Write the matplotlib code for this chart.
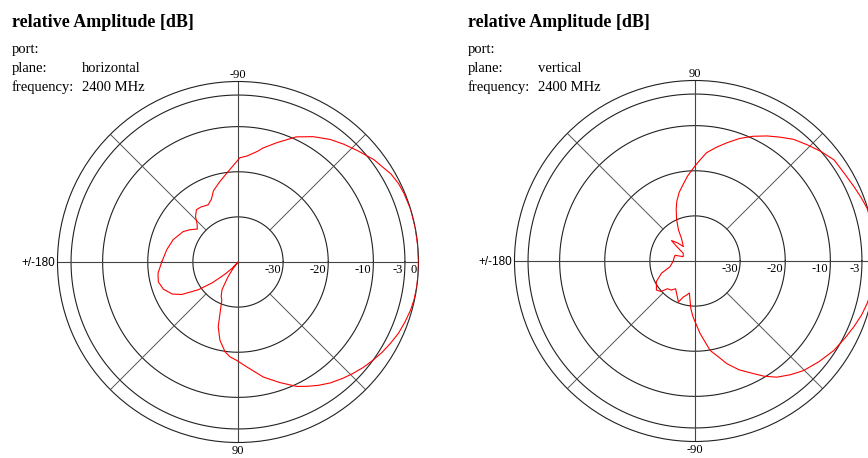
import numpy as np
import matplotlib
matplotlib.use("Agg")
import matplotlib.pyplot as plt

# ---------------- data ----------------
title_text = "relative Amplitude [dB]"
info_keys = ["port:", "plane:", "frequency:"]
info_left = ["", "horizontal", "2400 MHz"]
info_right = ["", "vertical", "2400 MHz"]

ring_levels = [-30, -20, -10, -3]
ring_labels = ["-30", "-20", "-10", "-3", "0"]
ring_label_levels = [-30, -20, -10, -3, 0]

# horizontal plane (angle in deg, relative amplitude in dB)
h_angle = [-180, -170, -161, -151, -146, -141, -137, -133, -128.5, -124, -117.5,
           -113, -109, -103, -97, -89, -85, -80, -77.5, -72, -65, -59, -53, -48,
           -43, -37, -33, -30, -26, -22.5, -17, -11, -5, 0, 4, 8, 12, 15.6, 20,
           24, 28, 32, 36, 40, 44, 48, 52.7, 57, 61, 64.7, 70.8, 77.6, 85.3,
           90.8, 94.8, 98.2, 103, 107, 113, 116, 120, 124, 127, 130, 133, 137,
           141, 145, 150, 154, 160, 166, 172, 180]
h_db = [-23.1, -24.0, -24.8, -26.1, -27.2, -28.4, -27.6, -26.2, -25.2, -25.3,
        -25.7, -24.9, -23.3, -21.8, -20.1, -16.9, -16.4, -15.1, -14.1, -12.2,
        -9.4, -7.6, -6.0, -4.9, -3.8, -2.3, -1.6, -0.9, -0.4, -0.2, 0.0, 0.0,
        0.0, 0.0, 0.0, 0.0, -0.1, -0.3, -0.7, -1.1, -1.7, -2.3, -3.0, -3.7,
        -4.5, -5.3, -6.3, -7.4, -8.5, -9.5, -11.7, -13.9, -16.7, -18.2, -18.9,
        -19.9, -22.2, -25.0, -30.8, -31.5, -32.9, -36.0, -38.2, -40.0, -38.2,
        -36.0, -32.7, -29.3, -25.6, -23.8, -22.4, -21.8, -22.1, -23.1]

# vertical plane
v_angle = [-180, -167, -160, -152, -143, -138, -135, -129, -125, -112, -108,
           -104, -100, -95, -92, -86, -83, -80.4, -76, -72.8, -68, -62.6, -59,
           -54.8, -50, -45.2, -39, -32.8, -27, -22.5, -18, -13.8, -9, -5, 0, 4,
           8, 12, 17, 21, 25, 30, 36, 41, 46, 51, 55.5, 60, 65, 70, 75, 79.5, 84,
           88, 91, 95, 99, 103, 107, 110, 114, 118, 121, 129, 134, 139, 142, 147,
           160, 164, 172, 180]
v_db = [-35.2, -34.3, -32.1, -30.3, -29.3, -29.9, -31.3, -31.7, -32.5, -30.2,
        -31.6, -32.2, -32.8, -29.4, -27.6, -23.9, -22.0, -19.9, -18.0, -16.2,
        -14.0, -11.9, -10.2, -8.5, -7.1, -5.8, -4.6, -3.4, -2.6, -1.9, -1.2,
        -0.7, -0.3, -0.1, 0.0, 0.0, 0.0, 0.0, -0.1, -0.6, -1.1, -1.6, -1.9,
        -3.0, -4.2, -5.3, -6.7, -8.0, -9.5, -11.1, -12.9, -14.4, -15.9, -18.0,
        -19.4, -21.1, -22.9, -24.4, -26.2, -27.8, -30.0, -32.2, -34.2, -35.9,
        -34.4, -33.1, -35.1, -36.9, -37.2, -35.4, -35.3, -35.2]

# ---------------- figure ----------------
W, H = 868, 458
fig = plt.figure(figsize=(W / 100, H / 100), dpi=100)

SERIF = "Liberation Serif"
SANS = "Liberation Sans"
R = 180.5


def polar_panel(cx, cy, direction, top_label, bottom_label, angles, dbs, show_zero):
    ax = fig.add_axes([(cx - R) / W, (H - cy - R) / H, 2 * R / W, 2 * R / H],
                      projection="polar")
    ax.set_theta_zero_location("E")
    ax.set_theta_direction(direction)
    ax.set_rlim(-40, 0)
    ax.grid(False)
    ax.set_xticks([])
    ax.set_yticks([])
    ax.spines["polar"].set_color("#222222")
    ax.spines["polar"].set_linewidth(0.8)
    ax.patch.set_alpha(0)

    th = np.linspace(0, 2 * np.pi, 721)
    for lev in ring_levels:
        ax.plot(th, np.full_like(th, lev), color="#222222", lw=0.8, zorder=2)
    for a in [0, 90, 180, 270]:
        ax.plot([np.deg2rad(a)] * 2, [-40, 0], color="#444444", lw=0.8, zorder=2)
    for a in [45, 135, 225, 315]:
        ax.plot([np.deg2rad(a)] * 2, [-30, 0], color="#555555", lw=0.7, zorder=2)

    ax.plot(np.deg2rad(angles), dbs, color="#ff0000", lw=0.8, zorder=3)

    # labels
    ax.annotate(top_label, xy=(np.deg2rad(90 * direction), 0), xytext=(0, 0.5),
                textcoords="offset points", ha="center", va="bottom",
                fontsize=9, family=SERIF, annotation_clip=False)
    ax.annotate(bottom_label, xy=(np.deg2rad(-90 * direction), 0), xytext=(0, -2),
                textcoords="offset points", ha="center", va="top",
                fontsize=9, family=SERIF, annotation_clip=False)
    ax.annotate("+/-180", xy=(np.pi, 0), xytext=(-2, -1),
                textcoords="offset points", ha="right", va="center",
                fontsize=8.5, family=SANS, annotation_clip=False)
    for lev, lab in zip(ring_label_levels, ring_labels):
        if lev == 0 and not show_zero:
            continue
        ax.annotate(lab, xy=(0, lev), xytext=(-1.5, -1.5),
                    textcoords="offset points", ha="right", va="top",
                    fontsize=9, family=SERIF, annotation_clip=False)
    return ax


polar_panel(238, 262, -1, "-90", "90", h_angle, h_db, True)
polar_panel(695, 261, 1, "90", "-90", v_angle, v_db, False)


def header(x0, vals):
    fig.text(x0 / W, 1 - 27 / H, title_text, family=SERIF, weight="bold",
             fontsize=13, va="baseline", ha="left")
    for i, (k, v) in enumerate(zip(info_keys, vals)):
        y = 53 + i * 19
        fig.text(x0 / W, 1 - y / H, k, family=SERIF, fontsize=10.5,
                 va="baseline", ha="left")
        if v:
            fig.text((x0 + 70) / W, 1 - y / H, v, family=SERIF, fontsize=10.5,
                     va="baseline", ha="left")


header(12, info_left)
header(468, info_right)

fig.savefig("out.png", dpi=100, facecolor="white")
